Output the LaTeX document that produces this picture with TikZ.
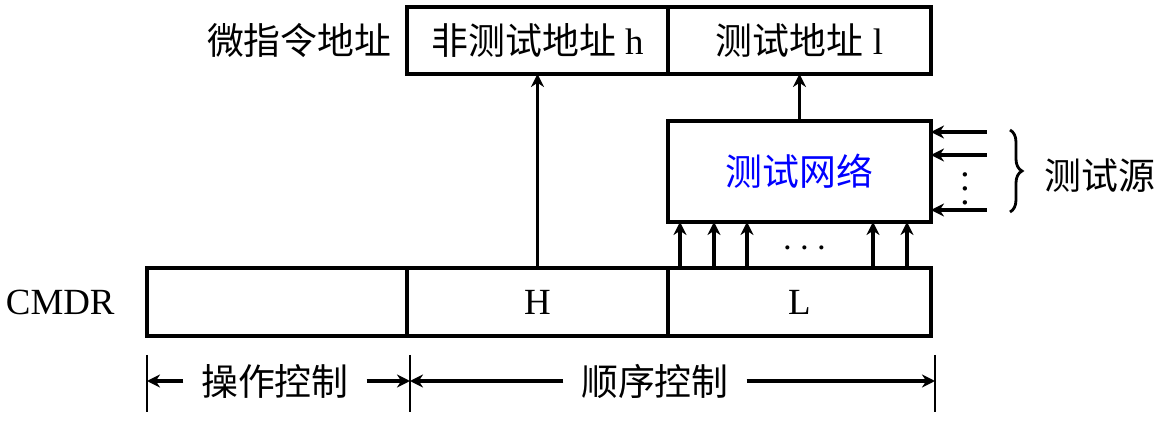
\documentclass[tikz,border=0pt]{standalone}
\usepackage{fontspec}
\setmainfont{Liberation Serif}
\newfontfamily\cjk{Noto Sans CJK SC}
\usetikzlibrary{positioning,decorations.pathreplacing,arrows.meta}

\begin{document}
\begin{tikzpicture}[node distance=0cm, font=\fontsize{10.5}{12}\selectfont,
  box/.style={draw, line width=1pt, outer sep=0pt, inner sep=0pt, minimum width=2.61cm},
  arr/.style={arrows={-Stealth[length=0.13cm, width=0.13cm]}, line width=1pt},
  tick/.style={line width=0.8pt}]
\useasboundingbox (0,0) rectangle (11.62,4.24);
% CMDR register
\node (op)[box, minimum height=0.68cm, minimum width=2.60cm, anchor=south west] at (1.47,0.88) {};
\node (h)[box, minimum height=0.68cm] [right=of op] {H};
\node (l)[box, minimum height=0.68cm, minimum width=2.63cm] [right=of h] {L};
\node (cmdr) [left=0.2cm of op] {CMDR};
% micro address
\node (nt)[box, minimum height=0.67cm] [above=1.94cm of h] {{\cjk 非测试地址} h};
\node (t)[box, minimum height=0.67cm, minimum width=2.63cm] [right=of nt] {{\cjk 测试地址} l};
\node (addr) [left=0.03cm of nt] {\cjk 微指令地址};
% test network
\node (tn)[box, minimum height=1.01cm, minimum width=2.63cm, text=blue] [above=0.46cm of l] {\cjk 测试网络};
\draw[arr] (h) -- (nt);
\draw[arr] (tn) -- (t);
\foreach \d in {0.12,0.46,0.79,2.05,2.39}
  \draw[arr] ([xshift=\d cm]l.north west) -- ([xshift=\d cm]tn.south west);
\node (hd) at (8.05,1.75) {$\cdots$};
% test sources
\coordinate (s1) at (9.87,2.92);
\coordinate (s2) at (9.87,2.69);
\coordinate (s3) at (9.87,2.14);
\draw[arr] (s1) -- (s1 -| tn.east);
\draw[arr] (s2) -- (s2 -| tn.east);
\draw[arr] (s3) -- (s3 -| tn.east);
\node (vd) at (9.65,2.46) {$\vdots$};
\draw[decorate, decoration={brace, amplitude=0.12cm}, line width=0.8pt] (10.10,2.94) -- (10.10,2.12);
\node (src) at (11.00,2.48) {\cjk 测试源};
% field widths
\coordinate (d1) at (1.47,0.43);
\coordinate (d2) at (4.10,0.43);
\coordinate (d3) at (9.35,0.43);
\foreach \p in {d1,d2,d3}
  \draw[tick] ([yshift=0.26cm]\p) -- ([yshift=-0.31cm]\p);
\node (opc)[inner sep=0.17cm] at (2.75,0.43) {\cjk 操作控制};
\node (seq)[inner sep=0.17cm] at (6.55,0.43) {\cjk 顺序控制};
\draw[arr] (opc) -- (d1);
\draw[arr] (opc) -- (d2);
\draw[arr] (seq) -- (d2);
\draw[arr] (seq) -- (d3);
\end{tikzpicture}
\end{document}
